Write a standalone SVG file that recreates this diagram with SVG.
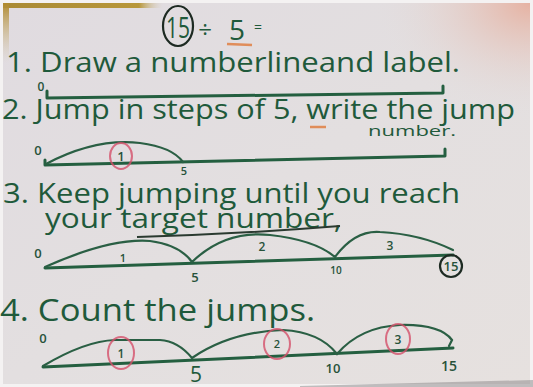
<svg xmlns="http://www.w3.org/2000/svg" width="533" height="387" viewBox="0 0 533 387">
<defs>
<linearGradient id="paper" x1="0" y1="0" x2="1" y2="1">
<stop offset="0" stop-color="#e0dbe0"/>
<stop offset="0.5" stop-color="#e3dfe0"/>
<stop offset="1" stop-color="#e6e1df"/>
</linearGradient>
<linearGradient id="frameL" x1="0" y1="0" x2="0" y2="1">
<stop offset="0" stop-color="#b08a2e"/>
<stop offset="1" stop-color="#d8c9a8" stop-opacity="0"/>
</linearGradient>
<linearGradient id="frameT" x1="0" y1="0" x2="1" y2="0">
<stop offset="0" stop-color="#a98a35"/>
<stop offset="0.85" stop-color="#b8973a"/>
<stop offset="1" stop-color="#d8cfc0" stop-opacity="0"/>
</linearGradient>
<radialGradient id="glow" cx="1" cy="0" r="0.3">
<stop offset="0" stop-color="#e6b2a2"/>
<stop offset="1" stop-color="#e3dfe0" stop-opacity="0"/>
</radialGradient>
<style>
.t{font-family:"Open Sans","Noto Sans",sans-serif;fill:#1f5a3b}
.nl{fill:none;stroke:#245f40;stroke-width:3;stroke-linecap:round;stroke-linejoin:round}
.arc{fill:none;stroke:#2a5f44;stroke-width:2.2;stroke-linecap:round}
.rc{fill:none;stroke:#d5506a;stroke-width:2;opacity:0.8}
.bc{fill:none;stroke:#1d2a22;stroke-width:2.2}
.lab{font-family:"Open Sans","Noto Sans",sans-serif;fill:#27523a;font-weight:600}
</style>
</defs>
<rect width="533" height="387" fill="#f4f2f2"/>
<rect x="3" y="3" width="527" height="381" fill="url(#paper)"/>
<rect x="3" y="3" width="527" height="381" fill="url(#glow)"/>
<rect x="3" y="3" width="160" height="5" fill="url(#frameT)"/>
<rect x="3" y="3" width="6" height="60" fill="url(#frameL)"/>
<path d="M300 386 L533 380 L533 387 L300 387 Z" fill="#8a8588" opacity="0.5"/>

<g id="title">
<ellipse class="bc" cx="178" cy="26" rx="15" ry="20"/>
<text class="t" x="178" y="38" font-size="30" text-anchor="middle" fill="#1d4a33" textLength="24" lengthAdjust="spacingAndGlyphs">15</text>
<text class="t" x="205" y="38" font-size="24" text-anchor="middle">÷</text>
<text class="t" x="237" y="40" font-size="28" text-anchor="middle">5</text>
<line x1="227" y1="44" x2="252" y2="45" stroke="#e08d5a" stroke-width="2.5"/>
<text class="t" x="258" y="32" font-size="14" text-anchor="middle">=</text>
</g>

<g id="step1">
<text class="t" x="6" y="72" font-size="27" textLength="454" lengthAdjust="spacingAndGlyphs">1. Draw a numberlineand label.</text>
<text class="lab" x="41" y="91" font-size="12" text-anchor="middle">0</text>
<polyline class="nl" points="47,91 47,98 443,93 443,86"/>
</g>

<g id="step2">
<text class="t" x="2" y="119" font-size="27" textLength="513" lengthAdjust="spacingAndGlyphs">2. Jump in steps of 5, write the jump</text>
<line x1="310" y1="127" x2="326" y2="127" stroke="#e08d5a" stroke-width="2.5"/>
<text class="t" x="368" y="136" font-size="15" textLength="88" lengthAdjust="spacingAndGlyphs">number.</text>
<text class="lab" x="38" y="155" font-size="13" text-anchor="middle">0</text>
<polyline class="nl" points="45,160 45,165 445,156 445,149"/>
<path class="arc" d="M46 164 Q95 138 140 143 Q172 147 183 162"/>
<ellipse class="rc" cx="121" cy="156" rx="11" ry="13"/>
<text class="lab" x="121" y="161" font-size="13" text-anchor="middle">1</text>
<text class="lab" x="184" y="175" font-size="11" text-anchor="middle">5</text>
</g>

<g id="step3">
<text class="t" x="3" y="203" font-size="27" textLength="457" lengthAdjust="spacingAndGlyphs">3. Keep jumping until you reach</text>
<text class="t" x="45" y="228" font-size="27" textLength="297" lengthAdjust="spacingAndGlyphs">your target number,</text>
<path d="M137 237 Q240 234 340 226" fill="none" stroke="#2a3a30" stroke-width="2"/>
<text class="lab" x="38" y="258" font-size="13" text-anchor="middle">0</text>
<line class="nl" x1="45" y1="268" x2="453" y2="255"/>
<path class="arc" d="M45 267 Q110 238 150 241 Q180 245 192 262 Q225 230 270 235 Q315 240 335 257 Q355 230 380 232 Q420 234 453 250"/>
<text class="lab" x="123" y="262" font-size="11" text-anchor="middle">1</text>
<text class="lab" x="262" y="251" font-size="12" text-anchor="middle">2</text>
<text class="lab" x="390" y="250" font-size="12" text-anchor="middle">3</text>
<text class="lab" x="195" y="282" font-size="13" text-anchor="middle">5</text>
<text class="lab" x="336" y="274" font-size="10" text-anchor="middle">10</text>
<circle class="bc" cx="451" cy="266" r="11"/>
<text class="lab" x="451" y="271" font-size="13" text-anchor="middle">15</text>
</g>

<g id="step4">
<text class="t" x="0" y="321" font-size="31" textLength="315" lengthAdjust="spacingAndGlyphs">4. Count the jumps.</text>
<text class="lab" x="43" y="343" font-size="13" text-anchor="middle">0</text>
<line class="nl" x1="43" y1="367" x2="453" y2="348"/>
<path class="arc" d="M43 366 Q85 341 115 340 L160 340 Q178 341 192 358 Q230 332 283 330 Q320 332 337 354 Q360 327 400 325 Q440 324 452 340 L449 346"/>
<ellipse class="rc" cx="121" cy="353" rx="13" ry="16"/>
<text class="lab" x="121" y="358" font-size="12" text-anchor="middle">1</text>
<ellipse class="rc" cx="277" cy="344" rx="13" ry="15"/>
<text class="lab" x="277" y="348" font-size="11" text-anchor="middle">2</text>
<ellipse class="rc" cx="398" cy="339" rx="12" ry="15"/>
<text class="lab" x="398" y="344" font-size="12" text-anchor="middle">3</text>
<text class="t" x="196" y="382" font-size="21" text-anchor="middle">5</text>
<text class="lab" x="333" y="373" font-size="13" text-anchor="middle">10</text>
<text class="lab" x="449" y="371" font-size="14" text-anchor="middle">15</text>
</g>
</svg>
